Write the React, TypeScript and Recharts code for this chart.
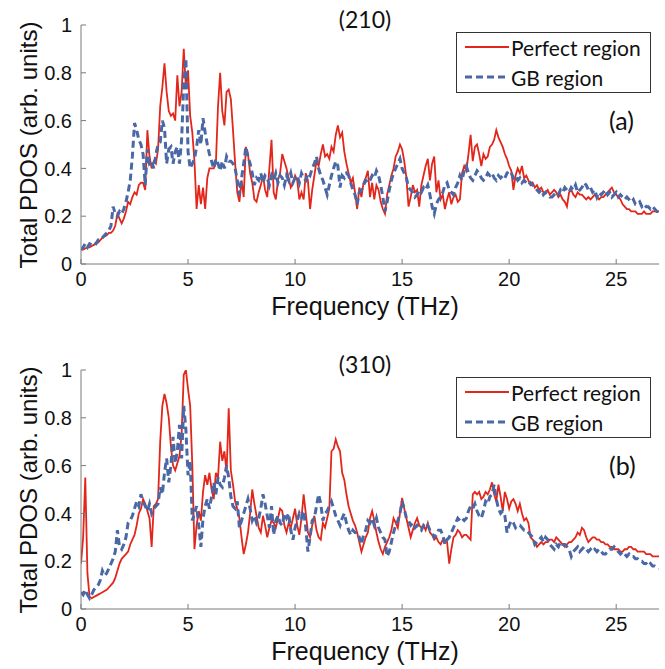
import { LineChart, Line, XAxis, YAxis } from "recharts";

// sampled every 0.1 THz from 0 to 27 THz
const perfect210 = [
  0.06, 0.06, 0.065, 0.07, 0.07, 0.075, 0.08, 0.085, 0.09, 0.10,
  0.11, 0.115, 0.12, 0.13, 0.13, 0.14, 0.16, 0.21, 0.19, 0.17,
  0.19, 0.22, 0.26, 0.25, 0.28, 0.30, 0.29, 0.33, 0.34, 0.34,
  0.31, 0.56, 0.45, 0.40, 0.43, 0.42, 0.48, 0.66, 0.74, 0.84,
  0.72, 0.64, 0.62, 0.63, 0.60, 0.79, 0.66, 0.72, 0.90, 0.74,
  0.81, 0.62, 0.55, 0.43, 0.23, 0.33, 0.25, 0.32, 0.23, 0.36,
  0.40, 0.40, 0.40, 0.42, 0.66, 0.80, 0.64, 0.58, 0.72, 0.73,
  0.69, 0.56, 0.42, 0.30, 0.26, 0.35, 0.28, 0.49, 0.46, 0.38,
  0.34, 0.27, 0.26, 0.30, 0.33, 0.37, 0.31, 0.28, 0.40, 0.52,
  0.30, 0.27, 0.35, 0.38, 0.46, 0.43, 0.40, 0.36, 0.32, 0.34,
  0.37, 0.35, 0.27, 0.30, 0.27, 0.38, 0.35, 0.23, 0.31, 0.37,
  0.43, 0.41, 0.46, 0.50, 0.45, 0.46, 0.44, 0.49, 0.47, 0.54,
  0.58, 0.53, 0.55, 0.47, 0.42, 0.38, 0.34, 0.36, 0.30, 0.23,
  0.32, 0.28, 0.34, 0.36, 0.39, 0.28, 0.34, 0.27, 0.33, 0.31,
  0.26, 0.23, 0.21, 0.29, 0.33, 0.37, 0.40, 0.45, 0.47, 0.50,
  0.48, 0.43, 0.36, 0.24, 0.28, 0.33, 0.30, 0.31, 0.24, 0.33,
  0.37, 0.41, 0.44, 0.35, 0.42, 0.45, 0.30, 0.35, 0.27, 0.29,
  0.23, 0.27, 0.30, 0.25, 0.28, 0.29, 0.26, 0.27, 0.38, 0.41,
  0.39, 0.46, 0.54, 0.43, 0.49, 0.50, 0.46, 0.41, 0.46, 0.44,
  0.45, 0.49, 0.50, 0.52, 0.56, 0.53, 0.51, 0.49, 0.46, 0.44,
  0.41, 0.39, 0.31, 0.37, 0.40, 0.38, 0.41, 0.36, 0.37, 0.35,
  0.33, 0.34, 0.32, 0.33, 0.31, 0.32, 0.30, 0.30, 0.31, 0.29,
  0.30, 0.31, 0.30, 0.28, 0.29, 0.27, 0.26, 0.24, 0.30, 0.31,
  0.29, 0.28, 0.30, 0.29, 0.29, 0.28, 0.27, 0.28, 0.27, 0.28,
  0.29, 0.28, 0.27, 0.28, 0.28, 0.29, 0.30, 0.31, 0.32, 0.30,
  0.29, 0.28, 0.27, 0.25, 0.24, 0.23, 0.23, 0.22, 0.22, 0.22,
  0.21, 0.21, 0.21, 0.22, 0.21, 0.21, 0.21, 0.22, 0.22, 0.22,
  0.22,
];

const gb210 = [
  0.06, 0.07, 0.085, 0.07, 0.085, 0.08, 0.09, 0.085, 0.10, 0.10,
  0.11, 0.12, 0.13, 0.14, 0.16, 0.24, 0.21, 0.20, 0.22, 0.21,
  0.23, 0.26, 0.30, 0.35, 0.45, 0.59, 0.56, 0.52, 0.50, 0.46,
  0.33, 0.48, 0.42, 0.43, 0.40, 0.46, 0.50, 0.51, 0.60, 0.57,
  0.42, 0.48, 0.49, 0.42, 0.47, 0.49, 0.42, 0.52, 0.75, 0.86,
  0.47, 0.40, 0.42, 0.44, 0.49, 0.56, 0.50, 0.61, 0.55, 0.50,
  0.46, 0.43, 0.40, 0.44, 0.42, 0.39, 0.43, 0.40, 0.45, 0.43,
  0.43, 0.42, 0.40, 0.35, 0.29, 0.36, 0.42, 0.49, 0.45, 0.42,
  0.38, 0.33, 0.36, 0.35, 0.38, 0.34, 0.37, 0.36, 0.33, 0.37,
  0.35, 0.38, 0.34, 0.37, 0.36, 0.33, 0.37, 0.35, 0.38, 0.34,
  0.36, 0.37, 0.34, 0.38, 0.36, 0.35, 0.38, 0.37, 0.40, 0.42,
  0.45, 0.40, 0.37, 0.35, 0.32, 0.29, 0.33, 0.37, 0.40, 0.43,
  0.41, 0.32, 0.37, 0.36, 0.38, 0.37, 0.34, 0.31, 0.29, 0.25,
  0.30, 0.31, 0.33, 0.35, 0.34, 0.35, 0.37, 0.36, 0.39, 0.37,
  0.33, 0.28, 0.22, 0.26, 0.31, 0.35, 0.38, 0.40, 0.42, 0.44,
  0.40, 0.38, 0.36, 0.32, 0.31, 0.30, 0.28, 0.29, 0.31, 0.30,
  0.32, 0.31, 0.33, 0.29, 0.24, 0.21, 0.25, 0.27, 0.28, 0.30,
  0.33, 0.34, 0.31, 0.30, 0.29, 0.32, 0.34, 0.37, 0.35, 0.39,
  0.41, 0.38, 0.36, 0.35, 0.37, 0.39, 0.38, 0.36, 0.35, 0.36,
  0.38, 0.37, 0.38, 0.36, 0.35, 0.37, 0.36, 0.37, 0.36, 0.38,
  0.39, 0.38, 0.36, 0.37, 0.35, 0.36, 0.34, 0.35, 0.34, 0.33,
  0.34, 0.33, 0.32, 0.31, 0.30, 0.31, 0.29, 0.30, 0.29, 0.28,
  0.28, 0.29, 0.30, 0.29, 0.31, 0.30, 0.32, 0.31, 0.30, 0.32,
  0.31, 0.33, 0.30, 0.31, 0.32, 0.34, 0.33, 0.31, 0.32, 0.30,
  0.31, 0.28, 0.30, 0.29, 0.30, 0.31, 0.29, 0.30, 0.28, 0.29,
  0.30, 0.28, 0.29, 0.28, 0.27, 0.28, 0.27, 0.26, 0.27, 0.25,
  0.25, 0.26, 0.24, 0.25, 0.24, 0.24, 0.23, 0.24, 0.23, 0.22,
  0.22,
];

const perfect310 = [
  0.19, 0.30, 0.55, 0.15, 0.05, 0.045, 0.05, 0.055, 0.06, 0.065,
  0.07, 0.075, 0.08, 0.09, 0.10, 0.11, 0.13, 0.16, 0.19, 0.21,
  0.22, 0.23, 0.24, 0.27, 0.29, 0.31, 0.35, 0.40, 0.42, 0.46,
  0.44, 0.41, 0.38, 0.26, 0.43, 0.44, 0.46, 0.70, 0.85, 0.90,
  0.86, 0.80, 0.68, 0.60, 0.58, 0.61, 0.64, 0.73, 0.98, 1.0,
  0.92, 0.85, 0.60, 0.25, 0.35, 0.41, 0.37, 0.49, 0.56, 0.52,
  0.57, 0.50, 0.46, 0.57, 0.55, 0.70, 0.62, 0.66, 0.57, 0.84,
  0.58, 0.52, 0.45, 0.42, 0.38, 0.30, 0.23, 0.27, 0.32, 0.40,
  0.50, 0.44, 0.39, 0.34, 0.32, 0.39, 0.35, 0.30, 0.34, 0.37,
  0.36, 0.34, 0.38, 0.42, 0.41, 0.35, 0.32, 0.36, 0.34, 0.38,
  0.42, 0.35, 0.31, 0.38, 0.48, 0.40, 0.32, 0.30, 0.35, 0.39,
  0.33, 0.30, 0.29, 0.36, 0.34, 0.38, 0.42, 0.66, 0.67, 0.71,
  0.68, 0.66, 0.57, 0.54, 0.48, 0.43, 0.40, 0.37, 0.35, 0.32,
  0.28, 0.24, 0.27, 0.30, 0.32, 0.38, 0.41, 0.37, 0.32, 0.28,
  0.25, 0.23, 0.26, 0.28, 0.30, 0.33, 0.38, 0.36, 0.34, 0.40,
  0.465, 0.42, 0.38, 0.34, 0.30, 0.33, 0.36, 0.38, 0.35, 0.34,
  0.35, 0.33, 0.36, 0.32, 0.31, 0.29, 0.30, 0.28, 0.27, 0.29,
  0.29, 0.28, 0.19, 0.25, 0.30, 0.31, 0.33, 0.32, 0.30, 0.31,
  0.31, 0.30, 0.29, 0.48, 0.49, 0.48, 0.49, 0.46, 0.47, 0.49,
  0.48, 0.50, 0.53, 0.48, 0.45, 0.52, 0.47, 0.41, 0.49, 0.46,
  0.42, 0.45, 0.46, 0.44, 0.41, 0.44, 0.40, 0.37, 0.38, 0.36,
  0.30, 0.29, 0.28, 0.26, 0.27, 0.28, 0.27, 0.28, 0.28, 0.29,
  0.29, 0.28, 0.30, 0.29, 0.28, 0.27, 0.26, 0.27, 0.28, 0.28,
  0.29, 0.30, 0.32, 0.31, 0.34, 0.33, 0.30, 0.28, 0.29, 0.30,
  0.30, 0.29, 0.29, 0.28, 0.28, 0.27, 0.27, 0.26, 0.26, 0.25,
  0.25, 0.25, 0.24, 0.24, 0.25, 0.25, 0.26, 0.26, 0.25, 0.25,
  0.24, 0.24, 0.24, 0.24, 0.23, 0.23, 0.23, 0.22, 0.22, 0.22,
  0.22,
];

const gb310 = [
  0.07, 0.06, 0.08, 0.06, 0.045, 0.06, 0.08, 0.09, 0.10, 0.12,
  0.16, 0.14, 0.15, 0.17, 0.19, 0.21, 0.24, 0.33, 0.26, 0.25,
  0.27, 0.30, 0.36, 0.37, 0.39, 0.42, 0.45, 0.43, 0.48, 0.45,
  0.43, 0.41, 0.44, 0.40, 0.42, 0.43, 0.44, 0.51, 0.48, 0.57,
  0.63, 0.53, 0.60, 0.72, 0.61, 0.66, 0.77, 0.63, 0.85, 0.75,
  0.56, 0.62, 0.37, 0.40, 0.43, 0.35, 0.26, 0.38, 0.43, 0.46,
  0.42, 0.47, 0.53, 0.48, 0.55, 0.52, 0.51, 0.55, 0.60, 0.55,
  0.47, 0.43, 0.42, 0.45, 0.34, 0.37, 0.40, 0.43, 0.46, 0.42,
  0.37, 0.39, 0.36, 0.38, 0.42, 0.48, 0.44, 0.39, 0.34, 0.43,
  0.31, 0.37, 0.39, 0.36, 0.35, 0.40, 0.38, 0.40, 0.33, 0.29,
  0.34, 0.37, 0.40, 0.38, 0.41, 0.34, 0.24, 0.30, 0.37, 0.38,
  0.43, 0.48, 0.44, 0.37, 0.40, 0.41, 0.43, 0.45, 0.42, 0.39,
  0.37, 0.35, 0.38, 0.40, 0.36, 0.33, 0.31, 0.33, 0.32, 0.32,
  0.30, 0.27, 0.31, 0.33, 0.37, 0.36, 0.38, 0.35, 0.38, 0.34,
  0.32, 0.30, 0.29, 0.22, 0.24, 0.28, 0.32, 0.35, 0.37, 0.40,
  0.45, 0.42, 0.38, 0.37, 0.35, 0.36, 0.34, 0.35, 0.34, 0.33,
  0.35, 0.34, 0.35, 0.33, 0.32, 0.30, 0.31, 0.33, 0.33, 0.31,
  0.27, 0.29, 0.30, 0.32, 0.34, 0.36, 0.38, 0.37, 0.38, 0.37,
  0.38, 0.41, 0.43, 0.42, 0.44, 0.41, 0.39, 0.38, 0.41, 0.45,
  0.44, 0.47, 0.48, 0.52, 0.46, 0.42, 0.40, 0.41, 0.39, 0.32,
  0.35, 0.37, 0.36, 0.34, 0.35, 0.35, 0.34, 0.33, 0.33, 0.32,
  0.31, 0.30, 0.27, 0.28, 0.29, 0.30, 0.28, 0.30, 0.29, 0.27,
  0.26, 0.25, 0.27, 0.26, 0.28, 0.27, 0.27, 0.26, 0.25, 0.22,
  0.24, 0.25, 0.26, 0.24, 0.25, 0.26, 0.25, 0.24, 0.25, 0.24,
  0.25, 0.24, 0.25, 0.24, 0.23, 0.23, 0.24, 0.25, 0.25, 0.26,
  0.25, 0.24, 0.23, 0.24, 0.23, 0.22, 0.23, 0.22, 0.22, 0.21,
  0.21, 0.20, 0.20, 0.19, 0.19, 0.18, 0.19, 0.18, 0.18, 0.175,
  0.17,
];

const xTicks = [0, 5, 10, 15, 20, 25];
const yTicks = [0, 0.2, 0.4, 0.6, 0.8, 1];

const RED = "#e3261a";
const BLUE = "#4a68a6";
const AXIS = "#7a7a7a";
const labelFont = "'Liberation Sans', Arial, sans-serif";
const textFont = "Lato, 'Open Sans', sans-serif";

function rows(perfect: number[], gb: number[]) {
  return perfect.map((p, i) => ({ f: i / 10, perfect: p, gb: gb[i] }));
}

function Panel({
  top,
  title,
  tag,
  perfect,
  gb,
}: {
  top: number;
  title: string;
  tag: string;
  perfect: number[];
  gb: number[];
}) {
  const data = rows(perfect, gb);
  return (
    <div style={{ position: "absolute", left: 0, top, width: 665, height: 330 }}>
      <LineChart
        width={665}
        height={330}
        data={data}
        margin={{ top: 25, right: 6, left: 41, bottom: 36 }}
      >
        <XAxis
          dataKey="f"
          type="number"
          domain={[0, 27]}
          ticks={xTicks}
          allowDataOverflow
          height={30}
          stroke={AXIS}
          tickSize={-5}
          tickMargin={13}
          tick={{ fill: "#111", fontSize: 20, fontFamily: labelFont }}
        />
        <YAxis
          type="number"
          domain={[0, 1]}
          ticks={yTicks}
          allowDataOverflow
          width={40}
          stroke={AXIS}
          tickSize={-5}
          tickMargin={14}
          tick={{ fill: "#111", fontSize: 20, fontFamily: labelFont }}
        />
        <Line
          dataKey="perfect"
          stroke={RED}
          strokeWidth={1.8}
          dot={false}
          isAnimationActive={false}
        />
        <Line
          dataKey="gb"
          stroke={BLUE}
          strokeWidth={3}
          strokeDasharray="7 4"
          dot={false}
          isAnimationActive={false}
        />
      </LineChart>

      <div
        style={{
          position: "absolute",
          left: 300,
          top: 5,
          width: 130,
          textAlign: "center",
          fontFamily: textFont,
          fontSize: 23,
          color: "#111",
        }}
      >
        {title}
      </div>
      <div
        style={{
          position: "absolute",
          left: 609,
          top: 105,
          fontFamily: textFont,
          fontSize: 25,
          color: "#111",
        }}
      >
        {tag}
      </div>

      <div
        style={{
          position: "absolute",
          left: 456,
          top: 32,
          width: 195,
          height: 61,
          border: "1px solid #333",
          background: "#fff",
          boxSizing: "border-box",
          fontFamily: textFont,
          fontSize: 21,
          color: "#111",
        }}
      >
        <svg width={50} height={60} style={{ position: "absolute", left: 6, top: 0 }}>
          <line x1={2} y1={14} x2={46} y2={14} stroke={RED} strokeWidth={1.8} />
          <line x1={2} y1={44} x2={46} y2={44} stroke={BLUE} strokeWidth={3} strokeDasharray="7 4" />
        </svg>
        <div style={{ position: "absolute", left: 54, top: 1, lineHeight: "28px" }}>Perfect region</div>
        <div style={{ position: "absolute", left: 54, top: 31, lineHeight: "28px" }}>GB region</div>
      </div>

      <div
        style={{
          position: "absolute",
          left: 29,
          top: 145,
          transform: "translate(-50%, -50%) rotate(-90deg)",
          whiteSpace: "nowrap",
          fontFamily: labelFont,
          fontSize: 24,
          color: "#111",
        }}
      >
        Total PDOS (arb. units)
      </div>
      <div
        style={{
          position: "absolute",
          left: 365,
          top: 306,
          transform: "translate(-50%, -50%)",
          whiteSpace: "nowrap",
          fontFamily: labelFont,
          fontSize: 25,
          color: "#111",
        }}
      >
        Frequency (THz)
      </div>
    </div>
  );
}

export default function App() {
  return (
    <div
      style={{
        position: "fixed",
        left: 0,
        top: 0,
        width: 665,
        height: 669,
        background: "#fff",
        overflow: "hidden",
      }}
    >
      <Panel top={0} title="(210)" tag="(a)" perfect={perfect210} gb={gb210} />
      <Panel top={345} title="(310)" tag="(b)" perfect={perfect310} gb={gb310} />
    </div>
  );
}
